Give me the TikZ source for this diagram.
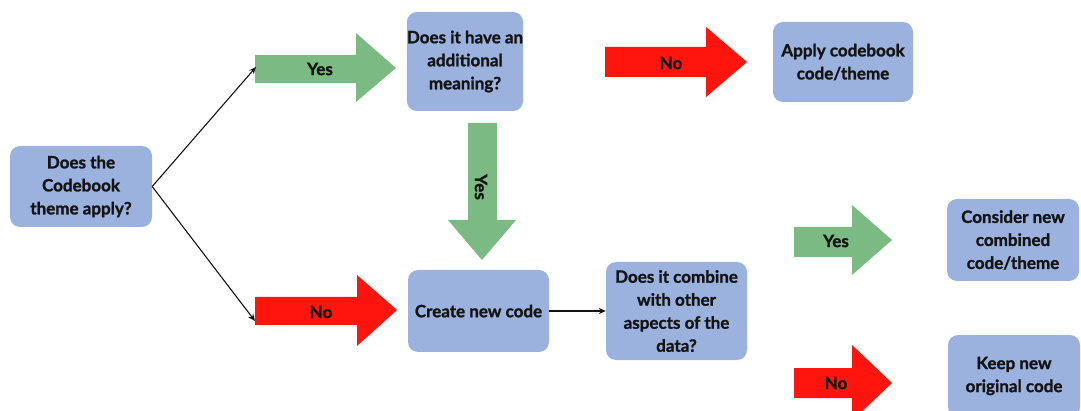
\documentclass[tikz,border=0pt]{standalone}
\usepackage{fontspec}
\setmainfont{Lato}[BoldFeatures={FakeBold=1.3}]
\usetikzlibrary{arrows.meta}
\definecolor{boxblue}{RGB}{155,178,222}
\definecolor{yesgreen}{RGB}{124,186,131}
\definecolor{nored}{RGB}{255,20,14}
\definecolor{ink}{RGB}{20,20,20}
\begin{document}
\begin{tikzpicture}[x=1pt,y=-1pt,
  qbox/.style={fill=boxblue, rounded corners=10pt, inner sep=0pt, align=center,
    text=ink, font=\fontsize{17}{23}\selectfont\bfseries},
  lbl/.style={text=ink, font=\fontsize{17}{20}\selectfont\bfseries, inner sep=0pt},
  link/.style={draw=ink, line width=1.1pt, -{Stealth[length=7pt,width=6pt]}}]
\useasboundingbox (0,0) rectangle (1081,411);
\fill[white] (0,0) rectangle (1081,411);

% decision and outcome boxes
\node[qbox, minimum width=142pt, minimum height=81pt] (apply) at (81,186.5)
  {Does the\\Codebook\\theme apply?};
\node[qbox, minimum width=114pt, minimum height=99pt] (meaning) at (465,61.5)
  {Does it have an\\additional\\meaning?};
\node[qbox, minimum width=140pt, minimum height=80pt] (usecb) at (843,62)
  {Apply codebook\\code/theme};
\node[qbox, minimum width=141pt, minimum height=82pt] (newcode) at (478.5,311)
  {Create new code};
\node[qbox, minimum width=141pt, minimum height=98pt] (combine) at (676.5,311)
  {Does it combine\\with other\\aspects of the\\data?};
\node[qbox, minimum width=132pt, minimum height=82pt] (combined) at (1013,240)
  {Consider new\\combined\\code/theme};
\node[qbox, minimum width=132pt, minimum height=82pt] (keep) at (1014,376)
  {Keep new\\original code};

% block arrows
\fill[yesgreen] (255,55) -- (356,55) -- (356,33) -- (396,68) -- (356,102) -- (356,83) -- (255,83) -- cycle;
\node[lbl] (yesA) at (320,69) {Yes};
\coordinate (yesAtail) at (256,67);

\fill[nored] (605,47) -- (706,47) -- (706,27) -- (747,62) -- (706,97) -- (706,77) -- (605,77) -- cycle;
\node[lbl] (noA) at (671,63) {No};

\fill[yesgreen] (468,123) -- (497,123) -- (497,220) -- (516,220) -- (482,260) -- (448,220) -- (468,220) -- cycle;
\node[lbl, rotate=-90] (yesB) at (481,187) {Yes};

\fill[nored] (255,297) -- (357,297) -- (357,275) -- (397,310) -- (357,346) -- (357,325) -- (255,325) -- cycle;
\node[lbl] (noB) at (321,312) {No};
\coordinate (noBtail) at (255,321);

\fill[yesgreen] (794,227) -- (852,227) -- (852,205) -- (892,240) -- (852,275) -- (852,257) -- (794,257) -- cycle;
\node[lbl] (yesC) at (836,241) {Yes};

\fill[nored] (794,368) -- (852,368) -- (852,345) -- (892,383) -- (852,421) -- (852,398) -- (794,398) -- cycle;
\node[lbl] (noC) at (836,383) {No};

% thin connectors
\draw[link] (apply.east) -- (yesAtail);
\draw[link] (apply.east) -- (noBtail);
\draw[link] (newcode.east) -- (combine.west);
\end{tikzpicture}
\end{document}
